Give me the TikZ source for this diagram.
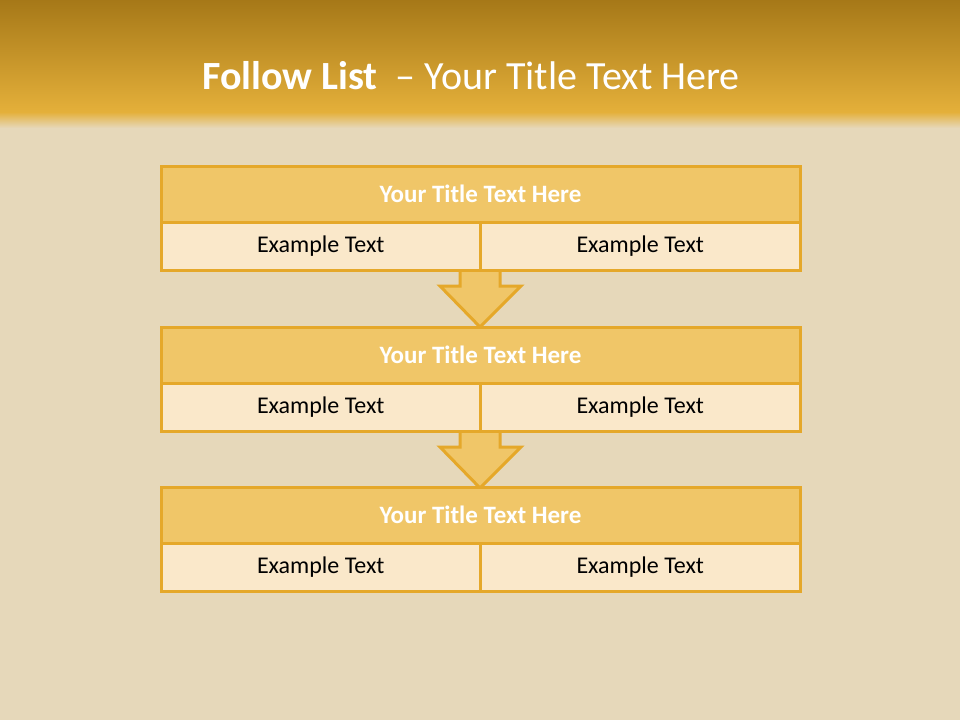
\documentclass[tikz,border=0pt]{standalone}
\usepackage{fontspec}
\setmainfont{Carlito}
\usetikzlibrary{positioning}
\definecolor{bgc}{RGB}{230,216,186}
\definecolor{hdtop}{RGB}{166,120,24}
\definecolor{hdbot}{RGB}{228,176,58}
\definecolor{ttlfill}{RGB}{240,198,104}
\definecolor{rowfill}{RGB}{250,232,202}
\definecolor{edgec}{RGB}{229,168,42}
\tikzset{
  hdrbox/.style={draw=edgec,line width=3pt,fill=ttlfill,minimum width=639pt,minimum height=56pt,inner sep=0pt,outer sep=0pt,text=white,font=\fontsize{25}{30}\selectfont\bfseries},
  cellbox/.style={draw=edgec,line width=3pt,fill=rowfill,minimum width=319.5pt,minimum height=48pt,inner sep=0pt,outer sep=0pt,text=black,font=\fontsize{24}{28}\selectfont},
  downarrow/.style={draw=edgec,line width=3pt,fill=ttlfill,line join=miter}
}
\begin{document}
\begin{tikzpicture}[x=1pt,y=-1pt]
\useasboundingbox (0,0) rectangle (960,720);
\fill[bgc] (0,0) rectangle (960,720);
\shade[top color=hdtop,bottom color=hdbot] (0,0) rectangle (960,112);
\shade[top color=hdbot,bottom color=bgc] (0,112) rectangle (960,128);
\node[text=white,font=\fontsize{40}{46}\selectfont] (title) at (471,76) {\textbf{Follow List}\ \ – Your Title Text Here};

% arrows
\draw[downarrow] (460,268) -- (460,286) -- (440,286) -- (480,327) -- (521,286) -- (500,286) -- (500,268);
\draw[downarrow] (460,429) -- (460,447) -- (440,447) -- (480,488) -- (521,447) -- (500,447) -- (500,429);

% box 1
\node[hdrbox] (h1) at (480.5,194) {Your Title Text Here};
\node[cellbox,anchor=north east] (a1) at (h1.south) {Example Text};
\node[cellbox,anchor=north west] (b1) at (h1.south) {Example Text};
% box 2
\node[hdrbox] (h2) at (480.5,355) {Your Title Text Here};
\node[cellbox,anchor=north east] (a2) at (h2.south) {Example Text};
\node[cellbox,anchor=north west] (b2) at (h2.south) {Example Text};
% box 3
\node[hdrbox] (h3) at (480.5,515) {Your Title Text Here};
\node[cellbox,anchor=north east] (a3) at (h3.south) {Example Text};
\node[cellbox,anchor=north west] (b3) at (h3.south) {Example Text};
\end{tikzpicture}
\end{document}
